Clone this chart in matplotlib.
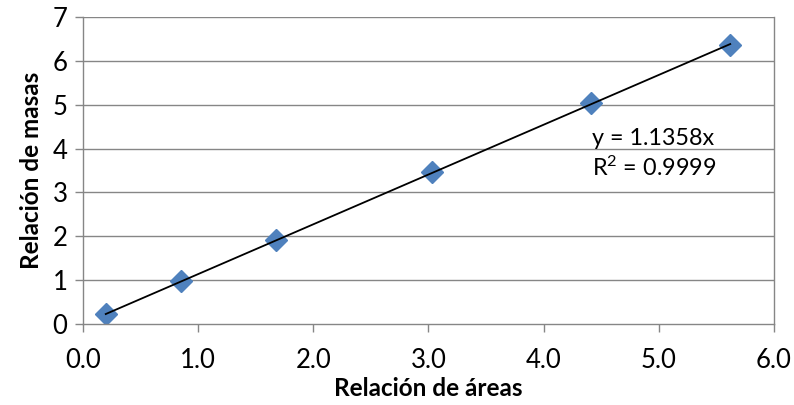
import matplotlib
matplotlib.use("Agg")
import matplotlib.pyplot as plt
import numpy as np

# Mass ratio vs. area ratio calibration data
area_ratio = [0.20, 0.85, 1.68, 3.03, 4.41, 5.62]
mass_ratio = [0.23, 0.98, 1.91, 3.46, 5.03, 6.36]
slope = 1.1358
r_squared = 0.9999

x_ticks = [0, 1, 2, 3, 4, 5, 6]
y_ticks = [0, 1, 2, 3, 4, 5, 6, 7]

plt.rcParams['font.family'] = ['Lato', 'DejaVu Sans']
plt.rcParams['mathtext.fontset'] = 'custom'
plt.rcParams['mathtext.rm'] = 'Lato'
plt.rcParams['mathtext.it'] = 'Lato:italic'
plt.rcParams['mathtext.default'] = 'regular'

fig = plt.figure(figsize=(7.94, 4.05), dpi=100)
ax = fig.add_axes([82.7 / 794, 1 - 324 / 405, (774 - 82.7) / 794, (324 - 17) / 405])

grid_color = '#868686'
for y in y_ticks[1:]:
    ax.axhline(y, color=grid_color, lw=1.0, zorder=1)

# Trendline through origin
fit_x = np.array([min(area_ratio), max(area_ratio)])
ax.plot(fit_x, slope * fit_x, color='black', lw=1.3, zorder=3)

ax.plot(area_ratio, mass_ratio, linestyle='none', marker='D', markersize=11,
        color='#4F81BD', markeredgecolor='#4F81BD', zorder=2)

ax.set_xlim(0, 6)
ax.set_ylim(0, 7)
ax.set_xticks(x_ticks)
ax.set_xticklabels([f"{v:.1f}" for v in x_ticks])
ax.set_yticks(y_ticks)
ax.set_yticklabels([str(v) for v in y_ticks])

for side in ['left', 'bottom', 'right', 'top']:
    ax.spines[side].set_color(grid_color)
    ax.spines[side].set_linewidth(1.0)
ax.spines['top'].set_visible(False)

ax.tick_params(axis='both', colors=grid_color, length=6, width=1.0, labelsize=18.5,
               labelcolor='black', direction='out')
ax.tick_params(axis='x', pad=11)
ax.tick_params(axis='y', pad=5)

ax.set_xlabel('Relación de áreas', fontsize=17.5, fontweight='bold', labelpad=3)
ax.set_ylabel('Relación de masas', fontsize=17.5, fontweight='bold', labelpad=7)

ax.text(4.42, 3.88, f"y = {slope:.4f}x\nR$^2$ = {r_squared:.4f}", fontsize=16.8,
        ha='left', va='center', linespacing=1.3, zorder=4)

fig.savefig('out.png', dpi=100)
